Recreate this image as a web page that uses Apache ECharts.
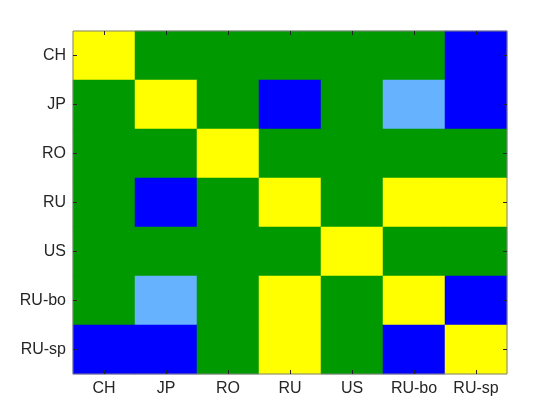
<!DOCTYPE html>
<html>
<head>
<meta charset="utf-8">
<script src="https://cdn.jsdelivr.net/npm/echarts@6/dist/echarts.min.js"></script>
<style>html,body{margin:0;padding:0;background:#fff}#c{width:560px;height:420px}</style>
</head>
<body>
<div id="c"></div>
<script>
const categories = ['CH', 'JP', 'RO', 'RU', 'US', 'RU-bo', 'RU-sp'];
// codes: 1 = yellow, 0 = green, -1 = blue, -0.5 = light blue
const rowCH   = [1, 0, 0, 0, 0, 0, -1];
const rowJP   = [0, 1, 0, -1, 0, -0.5, -1];
const rowRO   = [0, 0, 1, 0, 0, 0, 0];
const rowRU   = [0, -1, 0, 1, 0, 1, 1];
const rowUS   = [0, 0, 0, 0, 1, 0, 0];
const rowRUbo = [0, -0.5, 0, 1, 0, 1, -1];
const rowRUsp = [-1, -1, 0, 1, 0, -1, 1];
const rows = [rowCH, rowJP, rowRO, rowRU, rowUS, rowRUbo, rowRUsp];

const data = [];
rows.forEach((r, yi) => r.forEach((v, xi) => data.push([xi, yi, v])));

const chart = echarts.init(document.getElementById('c'));
const font = 'Helvetica, "Liberation Sans", Arial, sans-serif';
const tickStyle = {show: true, inside: true, length: 4, alignWithLabel: true, lineStyle: {color: '#262626', width: 1}};
chart.setOption({
  animation: false,
  grid: {left: 73, top: 31, right: 53, bottom: 46, show: true, borderColor: '#808080', borderWidth: 1, backgroundColor: 'transparent', z: 10},
  xAxis: [
    {type: 'category', data: categories, position: 'bottom',
     axisLine: {show: false}, axisTick: tickStyle, splitLine: {show: false},
     axisLabel: {color: '#262626', fontSize: 16, fontFamily: font, margin: 7}, z: 10},
    {type: 'category', data: categories, position: 'top',
     axisLine: {show: false}, axisTick: tickStyle, axisLabel: {show: false}, z: 10}
  ],
  yAxis: [
    {type: 'category', data: categories, inverse: true, position: 'left',
     axisLine: {show: false}, axisTick: tickStyle, splitLine: {show: false},
     axisLabel: {color: '#262626', fontSize: 16, fontFamily: font, margin: 7}, z: 10},
    {type: 'category', data: categories, inverse: true, position: 'right',
     axisLine: {show: false}, axisTick: tickStyle, axisLabel: {show: false}, z: 10}
  ],
  visualMap: {
    type: 'piecewise', show: false, dimension: 2,
    pieces: [
      {value: 1, color: '#ffff00'},
      {value: 0, color: '#009900'},
      {value: -1, color: '#0000ff'},
      {value: -0.5, color: '#66b2ff'}
    ]
  },
  series: [{
    type: 'heatmap', data: data, xAxisIndex: 0, yAxisIndex: 0,
    itemStyle: {borderWidth: 0},
    emphasis: {disabled: true}
  }]
});
</script>
</body>
</html>
